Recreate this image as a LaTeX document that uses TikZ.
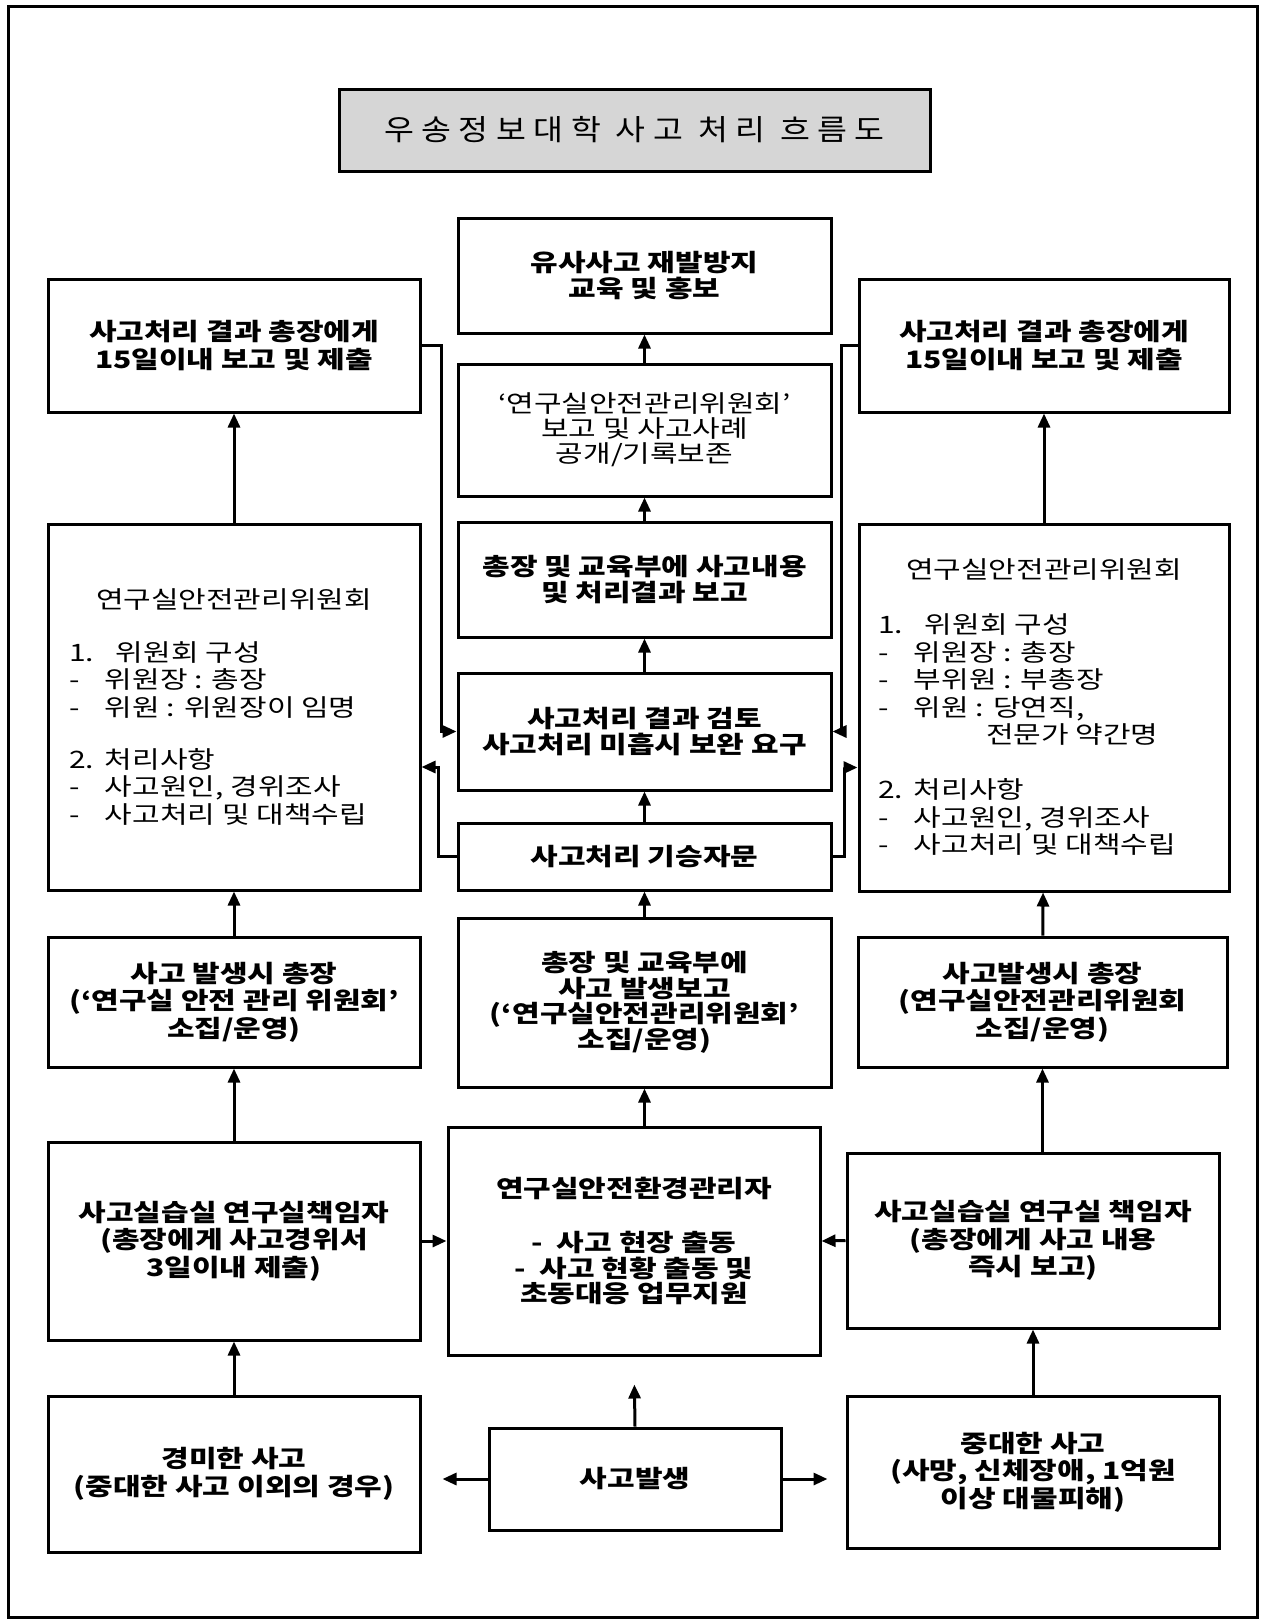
\documentclass[tikz,border=0pt]{standalone}
\usepackage{fontspec}
\usepackage{xcolor}
\usepackage{tikz}
\usetikzlibrary{arrows.meta, positioning, calc}
\newfontfamily\kr[FakeStretch=1.25]{Noto Sans CJK KR}
\newfontfamily\krtitle[LetterSpace=26, FakeStretch=1.12]{Noto Sans CJK KR}
\definecolor{titlegray}{RGB}{214, 214, 214}
\newcommand{\itemdash}[1]{\makebox[36pt][l]{-}#1}

\begin{document}
\begin{tikzpicture}[
    x=1pt, y=-1pt,
    box/.style={draw, line width=3pt, minimum width=372pt, inner sep=0pt, align=center, font=\kr\bfseries\fontsize{24}{27.5}\selectfont},
    cbox/.style={box, minimum width=373pt, font=\kr\bfseries\fontsize{24}{25.5}\selectfont},
    plainbox/.style={box, font=\kr\fontsize{24}{27.5}\selectfont},
    titlebox/.style={draw, line width=3pt, fill=titlegray, minimum width=591pt, minimum height=82pt, font=\krtitle\fontsize{29}{34}\selectfont},
    arrow/.style={-{Triangle[length=14pt, width=12pt]}, line width=3pt}
]
    \useasboundingbox (0,0) rectangle (1262,1623);
    \fill[white] (0,0) rectangle (1262,1623);
    \draw[line width=3pt] (8,6) rectangle (1257,1617);

    \node[titlebox] (title) at (634.5,130) {우송정보대학 사고 처리 흐름도};

    % center column
    \node[cbox, minimum height=115pt] (C1) at (644.5,275.5) {유사사고 재발방지\\교육 및 홍보};
    \node[cbox, minimum height=132pt, font=\kr\fontsize{24}{25}\selectfont] (C2) at (644.5,430) {‘연구실안전관리위원회’\\보고 및 사고사례\\공개/기록보존};
    \node[cbox, minimum height=115pt] (C3) at (644.5,579.5) {총장 및 교육부에 사고내용\\및 처리결과 보고};
    \node[cbox, minimum height=117pt] (C4) at (644.5,731.5) {사고처리 결과 검토\\사고처리 미흡시 보완 요구};
    \node[cbox, minimum height=67pt] (C5) at (644.5,856.5) {사고처리 기승자문};
    \node[cbox, minimum height=169pt] (C6) at (644.5,1002.5) {총장 및 교육부에\\사고 발생보고\\(‘연구실안전관리위원회’\\소집/운영)};
    \node[cbox, minimum width=372pt, minimum height=228pt] (C7) at (634,1241) {연구실안전환경관리자\\[29pt]-~~사고 현장 출동\\-~~사고 현황 출동 및\\초동대응 업무지원};
    \node[cbox, minimum width=292pt, minimum height=102pt] (C8) at (635,1479) {사고발생};

    % left column
    \node[box, minimum height=133pt] (L1) at (234,345.5) {사고처리 결과 총장에게\\15일이내 보고 및 제출};
    \node[plainbox, minimum height=366pt] (L2) at (234,707) {\parbox{330pt}{\centering 연구실안전관리위원회\par\vspace{25.5pt}\raggedright
        \makebox[47pt][l]{1.}위원회 구성\par
        \itemdash{위원장 : 총장}\par
        \itemdash{위원 : 위원장이 임명}\par\vspace{24.5pt}
        \makebox[36pt][l]{2.}처리사항\par
        \itemdash{사고원인, 경위조사}\par
        \itemdash{사고처리 및 대책수립}}};
    \node[box, minimum height=130pt] (L3) at (234,1002) {사고 발생시 총장\\(‘연구실 안전 관리 위원회’\\소집/운영)};
    \node[box, minimum height=198pt] (L4) at (234,1241) {사고실습실 연구실책임자\\(총장에게 사고경위서\\3일이내 제출)};
    \node[box, minimum height=156pt] (L5) at (234,1474) {경미한 사고\\(중대한 사고 이외의 경우)};

    % right column
    \node[box, minimum width=370pt, minimum height=133pt] (R1) at (1044,345.5) {사고처리 결과 총장에게\\15일이내 보고 및 제출};
    \node[plainbox, minimum width=370pt, minimum height=367pt] (R2) at (1044,707.5) {\parbox{332pt}{\centering 연구실안전관리위원회\par\vspace{27.5pt}\raggedright
        \makebox[47pt][l]{1.}위원회 구성\par
        \itemdash{위원장 : 총장}\par
        \itemdash{부위원 : 부총장}\par
        \itemdash{위원 : 당연직,}\par
        \hspace*{108pt}전문가 약간명\par\vspace{27.5pt}
        \makebox[36pt][l]{2.}처리사항\par
        \itemdash{사고원인, 경위조사}\par
        \itemdash{사고처리 및 대책수립}}};
    \node[box, minimum width=369pt, minimum height=130pt] (R3) at (1042.5,1002) {사고발생시 총장\\(연구실안전관리위원회\\소집/운영)};
    \node[box, minimum height=175pt] (R4) at (1033,1240.5) {사고실습실 연구실 책임자\\(총장에게 사고 내용\\즉시 보고)};
    \node[box, minimum height=152pt] (R5) at (1033,1472) {중대한 사고\\(사망, 신체장애, 1억원\\이상 대물피해)};

    \draw[arrow] (L5) -- (L4);
    \draw[arrow] (L4) -- (L3);
    \draw[arrow] (L3) -- (L2);
    \draw[arrow] (L2) -- (L1);
    \draw[arrow] (R5) -- (R4);
    \draw[arrow] (R4.north -| R3.south) -- (R3.south);
    \draw[arrow] (R3) -- (R2);
    \draw[arrow] (R2) -- (R1);

    \draw[arrow] (C7.north -| C6.south) -- (C6.south);
    \draw[arrow] (C6) -- (C5);
    \draw[arrow] (C5) -- (C4);
    \draw[arrow] (C4) -- (C3);
    \draw[arrow] (C3) -- (C2);
    \draw[arrow] (C2) -- (C1);

    \draw[arrow, shorten >=28pt] (C8.north) -- (C7.south);
    \draw[arrow, shorten >=21pt] (C8.west) -- (C8.west -| L5.east);
    \draw[arrow, shorten >=18pt] (C8.east) -- (C8.east -| R5.west);
    \draw[arrow] (L4.east) -- (C7.west);
    \draw[arrow] (R4.west) -- (C7.east);

    \draw[arrow] (L1.east) -- ++(20,0) |- (C4.west);
    \draw[arrow] (C5.west) -- ++(-18,0) |- ($(L2.east)+(0,60)$);
    \draw[arrow] (R1.west) -- ++(-16,0) |- (C4.east);
    \draw[arrow] (C5.east) -- ++(12,0) |- ($(R2.west)+(0,60)$);
\end{tikzpicture}
\end{document}
